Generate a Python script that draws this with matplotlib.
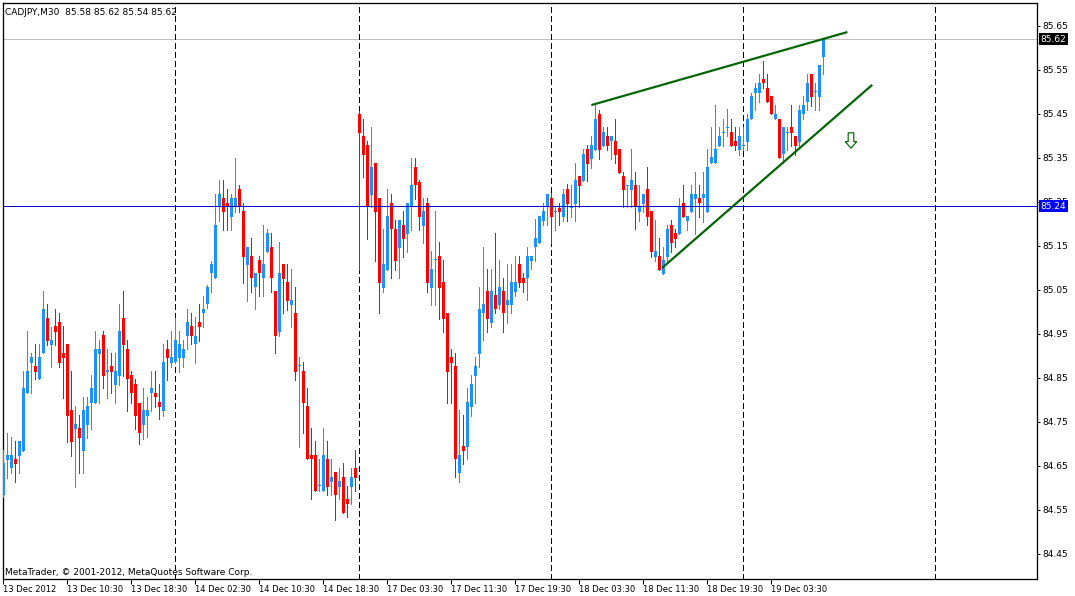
import numpy as np
import matplotlib
matplotlib.use('Agg')
from matplotlib import pyplot as plt
from matplotlib.patches import Polygon
import matplotlib.transforms as mtransforms

# --
# chart header / footer
title_txt = "CADJPY,M30  85.58 85.62 85.54 85.62"
copyright_txt = "MetaTrader, \u00a9 2001-2012, MetaQuotes Software Corp."

# M30 bars, 13 Dec 02:30 .. 19 Dec 10:00
opens = [84.584, 84.663, 84.645, 84.666, 84.673, 84.684, 84.816, 84.884, 84.877, 84.848,
         84.907, 84.986, 84.925, 84.968, 84.977, 84.907, 84.927, 84.777, 84.734, 84.736,
         84.684, 84.743, 84.793, 84.793, 84.904, 84.948, 84.863, 84.877, 84.834, 84.854,
         84.986, 84.916, 84.857, 84.836, 84.793, 84.743, 84.763, 84.816, 84.816, 84.795,
         84.775, 84.916, 84.884, 84.886, 84.895, 84.895, 84.945, 84.968, 84.927, 84.977,
         84.998, 85.018, 85.089, 85.077, 85.239, 85.259, 85.248, 85.216, 85.239, 85.279,
         85.229, 85.107, 85.127, 85.057, 85.118, 85.077, 85.136, 85.148, 85.048, 84.954,
         85.109, 85.068, 85.016, 84.998, 84.877, 84.866, 84.786, 84.675, 84.675, 84.604,
         84.593, 84.666, 84.613, 84.636, 84.602, 84.625, 84.575, 84.602, 84.645, 85.450,
         85.400, 85.379, 85.266, 85.339, 85.259, 85.054, 85.095, 85.248, 85.189, 85.145,
         85.198, 85.177, 85.239, 85.329, 85.295, 85.195, 85.248, 85.054, 85.118, 85.127,
         85.068, 84.998, 84.898, 84.877, 84.634, 84.695, 84.693, 84.784, 84.854, 84.904,
         84.998, 85.048, 84.975, 85.039, 85.016, 85.048, 85.016, 85.016, 85.045, 85.109,
         85.077, 85.077, 85.116, 85.148, 85.157, 85.207, 85.239, 85.259, 85.227, 85.236,
         85.216, 85.279, 85.236, 85.245, 85.309, 85.298, 85.370, 85.348, 85.368, 85.450,
         85.377, 85.400, 85.389, 85.389, 85.370, 85.309, 85.286, 85.277, 85.289, 85.227,
         85.245, 85.279, 85.229, 85.125, 85.127, 85.086, 85.125, 85.198, 85.179, 85.177,
         85.248, 85.207, 85.227, 85.257, 85.259, 85.259, 85.227, 85.339, 85.339, 85.377,
         85.407, 85.418, 85.409, 85.389, 85.368, 85.377, 85.386, 85.439, 85.498, 85.498,
         85.529, 85.509, 85.491, 85.439, 85.439, 85.359, 85.407, 85.420, 85.400, 85.386,
         85.450, 85.477, 85.541, 85.500, 85.489, 85.580]
highs = [84.686, 84.725, 84.716, 84.707, 84.707, 84.866, 84.957, 84.907, 84.927, 84.927,
         85.048, 85.018, 84.966, 85.007, 84.998, 84.968, 84.927, 84.866, 84.786, 84.766,
         84.807, 84.807, 84.857, 84.957, 84.936, 84.957, 84.916, 84.907, 84.907, 85.018,
         85.048, 84.936, 84.866, 84.848, 84.793, 84.827, 84.807, 84.866, 84.866, 84.836,
         84.927, 84.936, 84.957, 84.986, 84.957, 84.936, 85.007, 84.998, 84.989, 85.018,
         85.036, 85.060, 85.115, 85.268, 85.300, 85.300, 85.279, 85.268, 85.350, 85.289,
         85.248, 85.148, 85.168, 85.089, 85.127, 85.198, 85.189, 85.179, 85.048, 85.159,
         85.109, 85.109, 85.098, 85.057, 84.898, 84.886, 84.827, 84.736, 84.707, 84.666,
         84.736, 84.707, 84.666, 84.636, 84.645, 84.657, 84.604, 84.645, 84.686, 85.457,
         85.439, 85.389, 85.420, 85.339, 85.259, 85.189, 85.279, 85.268, 85.209, 85.209,
         85.229, 85.248, 85.350, 85.350, 85.300, 85.259, 85.259, 85.139, 85.229, 85.159,
         85.118, 84.998, 84.916, 84.907, 84.777, 84.766, 84.827, 84.857, 84.898, 85.057,
         85.148, 85.098, 85.098, 85.179, 85.118, 85.077, 85.109, 85.109, 85.127, 85.127,
         85.089, 85.148, 85.127, 85.211, 85.218, 85.248, 85.268, 85.270, 85.239, 85.248,
         85.279, 85.291, 85.289, 85.339, 85.309, 85.370, 85.379, 85.400, 85.470, 85.459,
         85.420, 85.420, 85.400, 85.439, 85.370, 85.318, 85.286, 85.370, 85.318, 85.289,
         85.268, 85.329, 85.229, 85.209, 85.168, 85.148, 85.198, 85.209, 85.189, 85.259,
         85.289, 85.218, 85.289, 85.318, 85.289, 85.318, 85.370, 85.420, 85.470, 85.420,
         85.439, 85.461, 85.439, 85.420, 85.420, 85.420, 85.450, 85.498, 85.520, 85.541,
         85.570, 85.541, 85.491, 85.470, 85.439, 85.420, 85.420, 85.470, 85.400, 85.470,
         85.491, 85.541, 85.541, 85.520, 85.561, 85.620]
lows = [84.580, 84.623, 84.634, 84.613, 84.634, 84.684, 84.816, 84.816, 84.848, 84.848,
        84.907, 84.925, 84.875, 84.925, 84.875, 84.804, 84.704, 84.673, 84.602, 84.634,
        84.634, 84.713, 84.734, 84.793, 84.793, 84.827, 84.804, 84.816, 84.793, 84.834,
        84.854, 84.775, 84.793, 84.734, 84.700, 84.711, 84.716, 84.775, 84.784, 84.757,
        84.763, 84.845, 84.875, 84.884, 84.863, 84.875, 84.916, 84.927, 84.884, 84.934,
        84.966, 85.010, 85.045, 85.077, 85.207, 85.186, 85.186, 85.186, 85.227, 85.227,
        85.066, 85.025, 85.045, 85.007, 85.036, 85.036, 85.136, 85.045, 84.907, 84.945,
        84.998, 85.004, 84.966, 84.845, 84.693, 84.725, 84.666, 84.575, 84.593, 84.593,
        84.593, 84.584, 84.584, 84.527, 84.575, 84.543, 84.534, 84.563, 84.593, 85.095,
        85.307, 85.166, 85.239, 85.116, 84.998, 85.045, 85.095, 85.077, 85.095, 85.077,
        85.125, 85.136, 85.186, 85.257, 85.186, 85.157, 85.045, 85.016, 85.016, 84.984,
        84.954, 84.793, 84.793, 84.625, 84.613, 84.654, 84.666, 84.763, 84.793, 84.875,
        84.936, 84.954, 84.966, 84.998, 85.007, 84.954, 84.975, 84.998, 85.036, 85.057,
        85.045, 85.027, 85.098, 85.116, 85.157, 85.198, 85.198, 85.157, 85.186, 85.198,
        85.207, 85.207, 85.216, 85.207, 85.239, 85.298, 85.298, 85.327, 85.368, 85.348,
        85.377, 85.368, 85.348, 85.339, 85.316, 85.239, 85.239, 85.239, 85.189, 85.207,
        85.227, 85.198, 85.125, 85.116, 85.095, 85.086, 85.116, 85.136, 85.148, 85.177,
        85.216, 85.186, 85.227, 85.177, 85.216, 85.204, 85.227, 85.339, 85.339, 85.377,
        85.377, 85.400, 85.377, 85.368, 85.357, 85.368, 85.368, 85.439, 85.459, 85.477,
        85.509, 85.477, 85.450, 85.439, 85.350, 85.339, 85.368, 85.377, 85.357, 85.377,
        85.439, 85.459, 85.468, 85.459, 85.459, 85.540]
closes = [84.657, 84.675, 84.675, 84.654, 84.707, 84.827, 84.866, 84.898, 84.863, 84.898,
          85.007, 84.934, 84.936, 84.954, 84.884, 84.895, 84.763, 84.704, 84.745, 84.713,
          84.777, 84.786, 84.827, 84.916, 84.916, 84.854, 84.868, 84.863, 84.866, 84.957,
          84.925, 84.848, 84.816, 84.763, 84.725, 84.777, 84.777, 84.827, 84.807, 84.784,
          84.886, 84.895, 84.898, 84.936, 84.927, 84.916, 84.977, 84.945, 84.945, 84.966,
          85.007, 85.057, 85.109, 85.198, 85.268, 85.227, 85.239, 85.259, 85.259, 85.239,
          85.125, 85.148, 85.077, 85.089, 85.089, 85.109, 85.179, 85.077, 84.945, 85.089,
          85.075, 85.025, 85.027, 84.863, 84.878, 84.793, 84.666, 84.666, 84.593, 84.605,
          84.675, 84.602, 84.625, 84.584, 84.616, 84.543, 84.563, 84.625, 84.623, 85.407,
          85.357, 85.239, 85.329, 85.227, 85.066, 85.109, 85.218, 85.189, 85.116, 85.209,
          85.166, 85.248, 85.289, 85.289, 85.216, 85.229, 85.066, 85.098, 85.119, 85.054,
          84.984, 84.863, 84.884, 84.666, 84.675, 84.684, 84.795, 84.836, 84.877, 85.007,
          85.018, 84.984, 85.048, 85.007, 85.057, 84.998, 85.027, 85.068, 85.068, 85.066,
          85.066, 85.127, 85.127, 85.168, 85.218, 85.229, 85.268, 85.216, 85.229, 85.227,
          85.268, 85.245, 85.241, 85.300, 85.286, 85.359, 85.336, 85.379, 85.439, 85.368,
          85.409, 85.377, 85.400, 85.357, 85.316, 85.277, 85.287, 85.300, 85.239, 85.239,
          85.268, 85.216, 85.136, 85.139, 85.095, 85.118, 85.189, 85.157, 85.166, 85.239,
          85.216, 85.218, 85.268, 85.268, 85.248, 85.268, 85.329, 85.352, 85.370, 85.400,
          85.409, 85.420, 85.377, 85.377, 85.400, 85.379, 85.439, 85.491, 85.509, 85.520,
          85.520, 85.477, 85.450, 85.450, 85.350, 85.420, 85.409, 85.407, 85.377, 85.459,
          85.470, 85.520, 85.489, 85.502, 85.561, 85.620]

date_labels = ["13 Dec 2012", "13 Dec 10:30", "13 Dec 18:30", "14 Dec 02:30", "14 Dec 10:30",
               "14 Dec 18:30", "17 Dec 03:30", "17 Dec 11:30", "17 Dec 19:30", "18 Dec 03:30",
               "18 Dec 11:30", "18 Dec 19:30", "19 Dec 03:30"]
label_bars = [0, 16, 32, 48, 64, 80, 96, 112, 128, 144, 160, 176, 192]
day_breaks = [43, 89, 137, 185, 233]   # period separators (bar index)
price_ticks = [84.45, 84.55, 84.65, 84.75, 84.85, 84.95, 85.05, 85.15, 85.25, 85.35, 85.45, 85.55, 85.65]
hline_level = 85.24
bid_level = 85.62

# trend lines drawn on the chart (bar index, price)
upper_tl = ([147, 211], [85.470, 85.636])
lower_tl = ([164.7, 217.2], [85.100, 85.516])
arrow_tip = (211.9, 85.372)
# --

bull_col, bear_col = '#1E90FF', '#FF0000'
tl_col = '#006400'
px = 0.72  # one pixel in points @ 100 dpi
fSize = 6.5

plt.rcParams['font.family'] = ['DejaVu Sans']
plt.rcParams['lines.scale_dashes'] = False

fig = plt.figure(figsize=(10.75, 5.96), dpi=100)
fig.patch.set_facecolor('white')
ax = fig.add_axes([2.5/1075, 1-579/596, (1037-2.5)/1075, (579-3)/596])

o, h, l, c = [np.array(a) for a in (opens, highs, lows, closes)]
x = np.arange(len(o))
cols = np.where(c >= o, bull_col, bear_col)

ax.vlines(x, l, h, colors=cols, linewidth=px, zorder=3, antialiased=False)
body_lo = np.minimum(o, c)
body_h = np.maximum(np.abs(c - o), 0.0025)
ax.bar(x, body_h, bottom=body_lo, width=0.75, color=cols, linewidth=0, zorder=4,
       antialiased=False)

# separators
for b in day_breaks:
    ax.axvline(b, color='black', linewidth=px, dashes=(3.6, 2.2), zorder=2, antialiased=False)

# horizontal line and bid line
ax.axhline(hline_level, color='#0000C8', linewidth=px, zorder=5, antialiased=False)
ax.axhline(bid_level, color='#C0C0C0', linewidth=px, zorder=1, antialiased=False)

# trend lines
ax.plot(upper_tl[0], upper_tl[1], color=tl_col, linewidth=px*2.2, zorder=6, solid_capstyle='butt')
ax.plot(lower_tl[0], lower_tl[1], color=tl_col, linewidth=px*2.2, zorder=6, solid_capstyle='butt')

# hollow down arrow
ax_, ay_ = arrow_tip
arrow_shape = [(ax_-0.7, ay_+0.035), (ax_+0.7, ay_+0.035), (ax_+0.7, ay_+0.015),
               (ax_+1.45, ay_+0.015), (ax_, ay_), (ax_-1.45, ay_+0.015), (ax_-0.7, ay_+0.015)]
ax.add_patch(Polygon(arrow_shape, closed=True, facecolor='white', edgecolor=tl_col,
                     linewidth=px*1.2, zorder=7))

ax.set_xlim(-0.2, 258.4)
ax.set_ylim(84.393, 85.702)

# price scale on the right
ax.yaxis.tick_right()
ax.set_yticks(price_ticks)
ax.set_yticklabels(['{:.2f}'.format(p) for p in price_ticks], fontsize=fSize)
ax.tick_params(axis='y', direction='out', length=2.5, width=px, pad=1.5)

ax.set_xticks(label_bars)
ax.set_xticklabels(date_labels, fontsize=6, ha='left')
ax.tick_params(axis='x', direction='out', length=3.5, width=px, pad=0.5)

for sp in ax.spines.values():
    sp.set_linewidth(px*1.3)
    sp.set_color('black')

# boxed price labels
trans = mtransforms.blended_transform_factory(ax.transAxes, ax.transData)
ax.text(1.0035, bid_level, '85.62', transform=trans, fontsize=fSize, color='white',
        va='center', ha='left', zorder=10, clip_on=False,
        bbox=dict(facecolor='black', edgecolor='none', pad=1.2))
ax.text(1.0035, hline_level, '85.24', transform=trans, fontsize=fSize, color='white',
        va='center', ha='left', zorder=10, clip_on=False,
        bbox=dict(facecolor='#0000FF', edgecolor='none', pad=1.2))

ax.text(0.002, 0.992, title_txt, transform=ax.transAxes, fontsize=fSize, va='top', ha='left')
ax.text(0.002, 0.004, copyright_txt, transform=ax.transAxes, fontsize=fSize, va='bottom', ha='left')

plt.savefig('out.png', dpi=100)
